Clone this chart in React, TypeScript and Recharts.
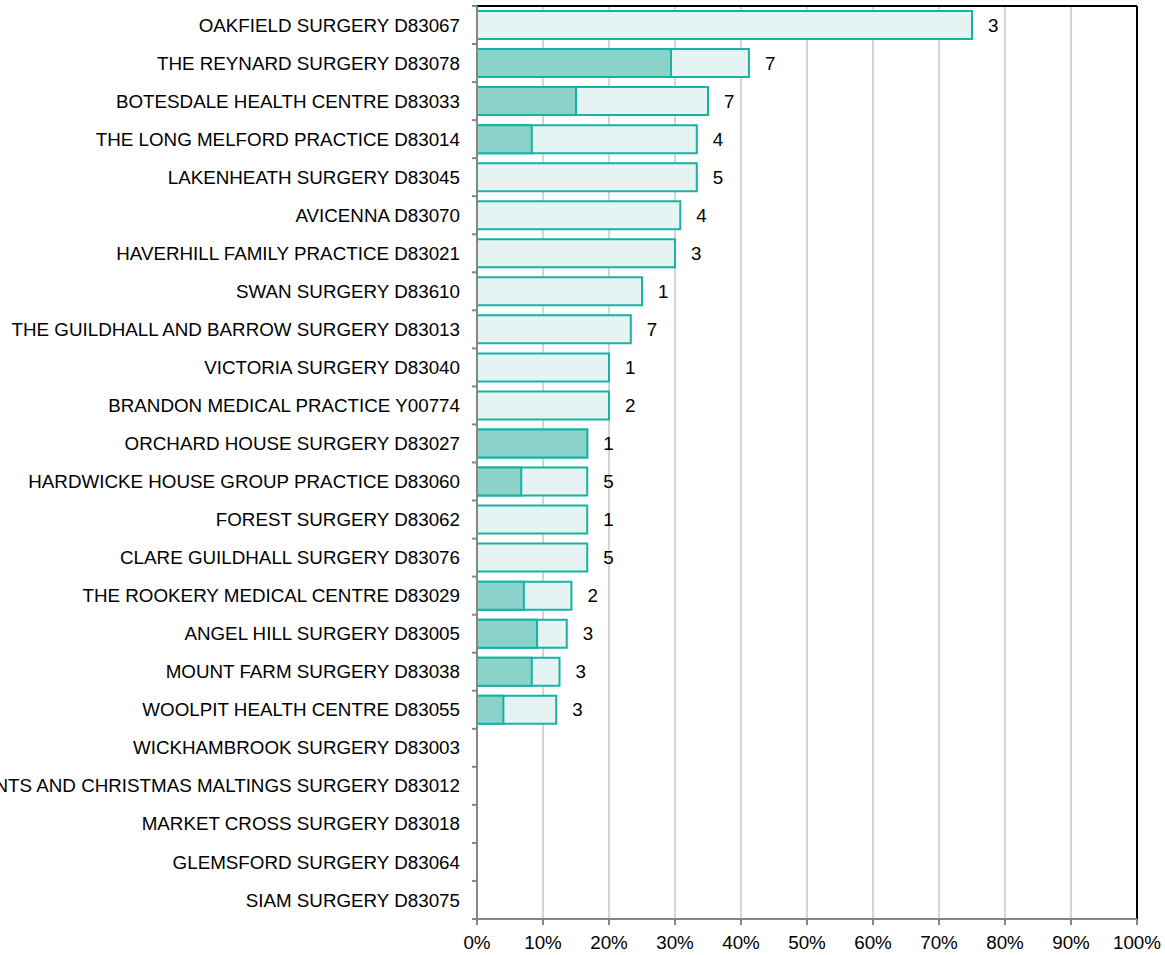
import React from "react";
import {
  BarChart,
  Bar,
  XAxis,
  YAxis,
  CartesianGrid,
  ReferenceLine,
  LabelList,
} from "recharts";

// Practice names, top to bottom
const practices: string[] = [
  "OAKFIELD SURGERY D83067",
  "THE REYNARD SURGERY D83078",
  "BOTESDALE HEALTH CENTRE D83033",
  "THE LONG MELFORD PRACTICE D83014",
  "LAKENHEATH SURGERY D83045",
  "AVICENNA D83070",
  "HAVERHILL FAMILY PRACTICE D83021",
  "SWAN SURGERY D83610",
  "THE GUILDHALL AND BARROW SURGERY D83013",
  "VICTORIA SURGERY D83040",
  "BRANDON MEDICAL PRACTICE Y00774",
  "ORCHARD HOUSE SURGERY D83027",
  "HARDWICKE HOUSE GROUP PRACTICE D83060",
  "FOREST SURGERY D83062",
  "CLARE GUILDHALL SURGERY D83076",
  "THE ROOKERY MEDICAL CENTRE D83029",
  "ANGEL HILL SURGERY D83005",
  "MOUNT FARM SURGERY D83038",
  "WOOLPIT HEALTH CENTRE D83055",
  "WICKHAMBROOK SURGERY D83003",
  "CLEMENTS AND CHRISTMAS MALTINGS SURGERY D83012",
  "MARKET CROSS SURGERY D83018",
  "GLEMSFORD SURGERY D83064",
  "SIAM SURGERY D83075",
];

// Whole bar (light), percent
const totalPct: (number | null)[] = [
  75, 41.2, 35, 33.3, 33.3, 30.8, 30, 25, 23.3, 20, 20, 16.7, 16.7, 16.7, 16.7,
  14.3, 13.6, 12.5, 12, null, null, null, null, null,
];

// Inner darker part, percent
const partPct: (number | null)[] = [
  null, 29.4, 15, 8.3, null, null, null, null, null, null, null, 16.7, 6.7,
  null, null, 7.1, 9.1, 8.3, 4, null, null, null, null, null,
];

// Counts shown right of the bars
const counts: (number | null)[] = [
  3, 7, 7, 4, 5, 4, 3, 1, 7, 1, 2, 1, 5, 1, 5, 2, 3, 3, 3, null, null, null,
  null, null,
];

const xTicks = [0, 10, 20, 30, 40, 50, 60, 70, 80, 90, 100];

const data = practices.map((name, i) => ({
  name,
  total: totalPct[i],
  part: partPct[i],
  count: counts[i],
}));

const W = 1165;
const H = 955;
const TOP = 5;
const TOP_AXIS_H = 1;
const XAXIS_H = 36;
const BAND = (H - TOP - TOP_AXIS_H - XAXIS_H) / practices.length;
const FONT = "'Liberation Sans', Arial, sans-serif";
const FS = 18.8;
const TEAL = "#16b3a3";
const AXIS = "#868686";

const CategoryTick = (props: any) => {
  const { x, y, payload, index } = props;
  const ax = x + 17;
  return (
    <g>
      <line x1={ax - 5} x2={ax} y1={y - BAND / 2} y2={y - BAND / 2} stroke={AXIS} strokeWidth={2} />
      {index === practices.length - 1 && (
        <line x1={ax - 5} x2={ax} y1={y + BAND / 2} y2={y + BAND / 2} stroke={AXIS} strokeWidth={2} />
      )}
      <text x={x} y={y} dy="0.35em" textAnchor="end" fill="#000" fontSize={FS} fontFamily={FONT}>
        {payload.value}
      </text>
    </g>
  );
};

const CountLabel = (props: any) => {
  const { x, y, width, height, value } = props;
  if (value === null || value === undefined) return null;
  return (
    <text
      x={x + width + 16}
      y={y + height / 2}
      dy="0.35em"
      textAnchor="start"
      fill="#000"
      fontSize={FS}
      fontFamily={FONT}
    >
      {value}
    </text>
  );
};

const App = () => {
  return (
    <div style={{ position: "absolute", left: 0, top: 0, background: "#fff" }}>
      <BarChart
        width={W}
        height={H}
        data={data}
        layout="vertical"
        margin={{ top: TOP, right: 28, bottom: 0, left: 0 }}
        barGap={-28}
      >
        <CartesianGrid horizontal={false} stroke="#c6c6c6" strokeWidth={1.5} />
        <XAxis
          type="number"
          domain={[0, 100]}
          ticks={xTicks}
          interval={0}
          tickFormatter={(v: number) => `${v}%`}
          height={XAXIS_H}
          tickSize={6}
          tickMargin={11}
          axisLine={{ stroke: AXIS, strokeWidth: 2 }}
          tickLine={{ stroke: AXIS, strokeWidth: 2 }}
          tick={{ fill: "#000", fontSize: FS, fontFamily: FONT }}
        />
        <XAxis
          xAxisId="top"
          orientation="top"
          type="number"
          domain={[0, 100]}
          height={TOP_AXIS_H}
          tick={false}
          tickLine={false}
          axisLine={{ stroke: "#000", strokeWidth: 2 }}
        />
        <YAxis
          type="category"
          dataKey="name"
          width={477}
          interval={0}
          tickSize={0}
          tickMargin={17}
          tickLine={false}
          axisLine={{ stroke: AXIS, strokeWidth: 2 }}
          tick={<CategoryTick />}
        />
        <ReferenceLine x={100} stroke="#000" strokeWidth={2} />
        <Bar
          dataKey="total"
          barSize={28}
          fill="#e5f4f2"
          stroke={TEAL}
          strokeWidth={2}
          isAnimationActive={false}
        >
          <LabelList dataKey="count" content={<CountLabel />} />
        </Bar>
        <Bar
          dataKey="part"
          barSize={28}
          fill="#8bd2ca"
          stroke={TEAL}
          strokeWidth={2}
          isAnimationActive={false}
        />
      </BarChart>
    </div>
  );
};

export default App;
